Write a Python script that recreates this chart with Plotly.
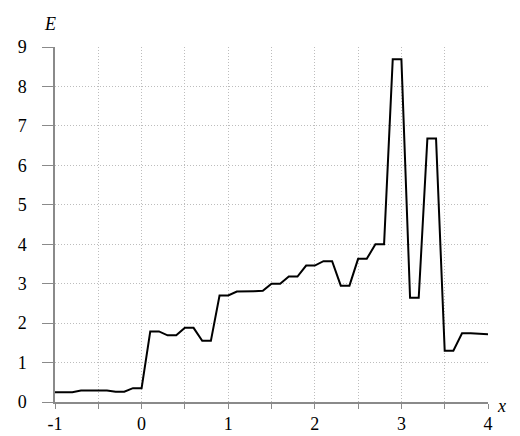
import plotly.graph_objects as go

# Sample positions along x and the measured E values
x_vals = [-1.0, -0.9, -0.8, -0.7, -0.6, -0.5, -0.4, -0.3, -0.2, -0.1,
          0.0, 0.1, 0.2, 0.3, 0.4, 0.5, 0.6, 0.7, 0.8, 0.9,
          1.0, 1.1, 1.2, 1.3, 1.4, 1.5, 1.6, 1.7, 1.8, 1.9,
          2.0, 2.1, 2.2, 2.3, 2.4, 2.5, 2.6, 2.7, 2.8, 2.9,
          3.0, 3.1, 3.2, 3.3, 3.4, 3.5, 3.6, 3.7, 3.8, 3.9, 4.0]
e_vals = [0.25, 0.25, 0.25, 0.29, 0.29, 0.29, 0.29, 0.26, 0.26, 0.35,
          0.35, 1.79, 1.79, 1.69, 1.69, 1.88, 1.88, 1.55, 1.55, 2.70,
          2.70, 2.80, 2.80, 2.81, 2.82, 3.00, 3.00, 3.18, 3.18, 3.46,
          3.46, 3.57, 3.57, 2.95, 2.95, 3.63, 3.63, 4.00, 4.00, 8.69,
          8.69, 2.64, 2.64, 6.68, 6.68, 1.30, 1.30, 1.74, 1.74, 1.73, 1.72]

x_ticks = [-1, -0.5, 0, 0.5, 1, 1.5, 2, 2.5, 3, 3.5, 4]
x_tick_text = ["-1", "", "0", "", "1", "", "2", "", "3", "", "4"]
y_ticks = [0, 1, 2, 3, 4, 5, 6, 7, 8, 9]
y_tick_text = [str(v) for v in y_ticks]

FONT = "Liberation Serif, Times New Roman, serif"
AXIS_GREY = "#8a8a8a"
GRID_GREY = "#bdbdbd"

fig = go.Figure(go.Scatter(
    x=x_vals, y=e_vals, mode="lines",
    line=dict(color="black", width=2),
    hoverinfo="skip", showlegend=False,
))

fig.update_layout(
    width=520, height=436,
    margin=dict(l=55, r=32, t=47, b=34),
    paper_bgcolor="white", plot_bgcolor="white",
    font=dict(family=FONT, size=18, color="black"),
    xaxis=dict(
        range=[-1, 4], tickvals=x_ticks, ticktext=x_tick_text,
        showline=True, linecolor=AXIS_GREY, linewidth=1.5,
        ticks="outside", ticklen=5, tickcolor=AXIS_GREY, tickwidth=1,
        showgrid=True, gridcolor=GRID_GREY, gridwidth=1, griddash="1px,2px",
        zeroline=False, ticklabelstandoff=0, automargin=False,
    ),
    yaxis=dict(
        range=[0, 9], tickvals=y_ticks, ticktext=y_tick_text,
        showline=True, linecolor=AXIS_GREY, linewidth=1.5,
        ticks="outside", ticklen=11, tickcolor=AXIS_GREY, tickwidth=1,
        showgrid=True, gridcolor=GRID_GREY, gridwidth=1, griddash="1px,2px",
        zeroline=False, ticklabelstandoff=12, automargin=False,
    ),
    annotations=[
        dict(text="<i>E</i>", xref="paper", yref="paper",
             x=-0.012, y=1.066, xanchor="center", yanchor="middle",
             showarrow=False, font=dict(family=FONT, size=18)),
        dict(text="<i>x</i>", xref="paper", yref="paper",
             x=1.032, y=-0.01, xanchor="center", yanchor="middle",
             showarrow=False, font=dict(family=FONT, size=18)),
    ],
)

fig.write_html("out.html")
